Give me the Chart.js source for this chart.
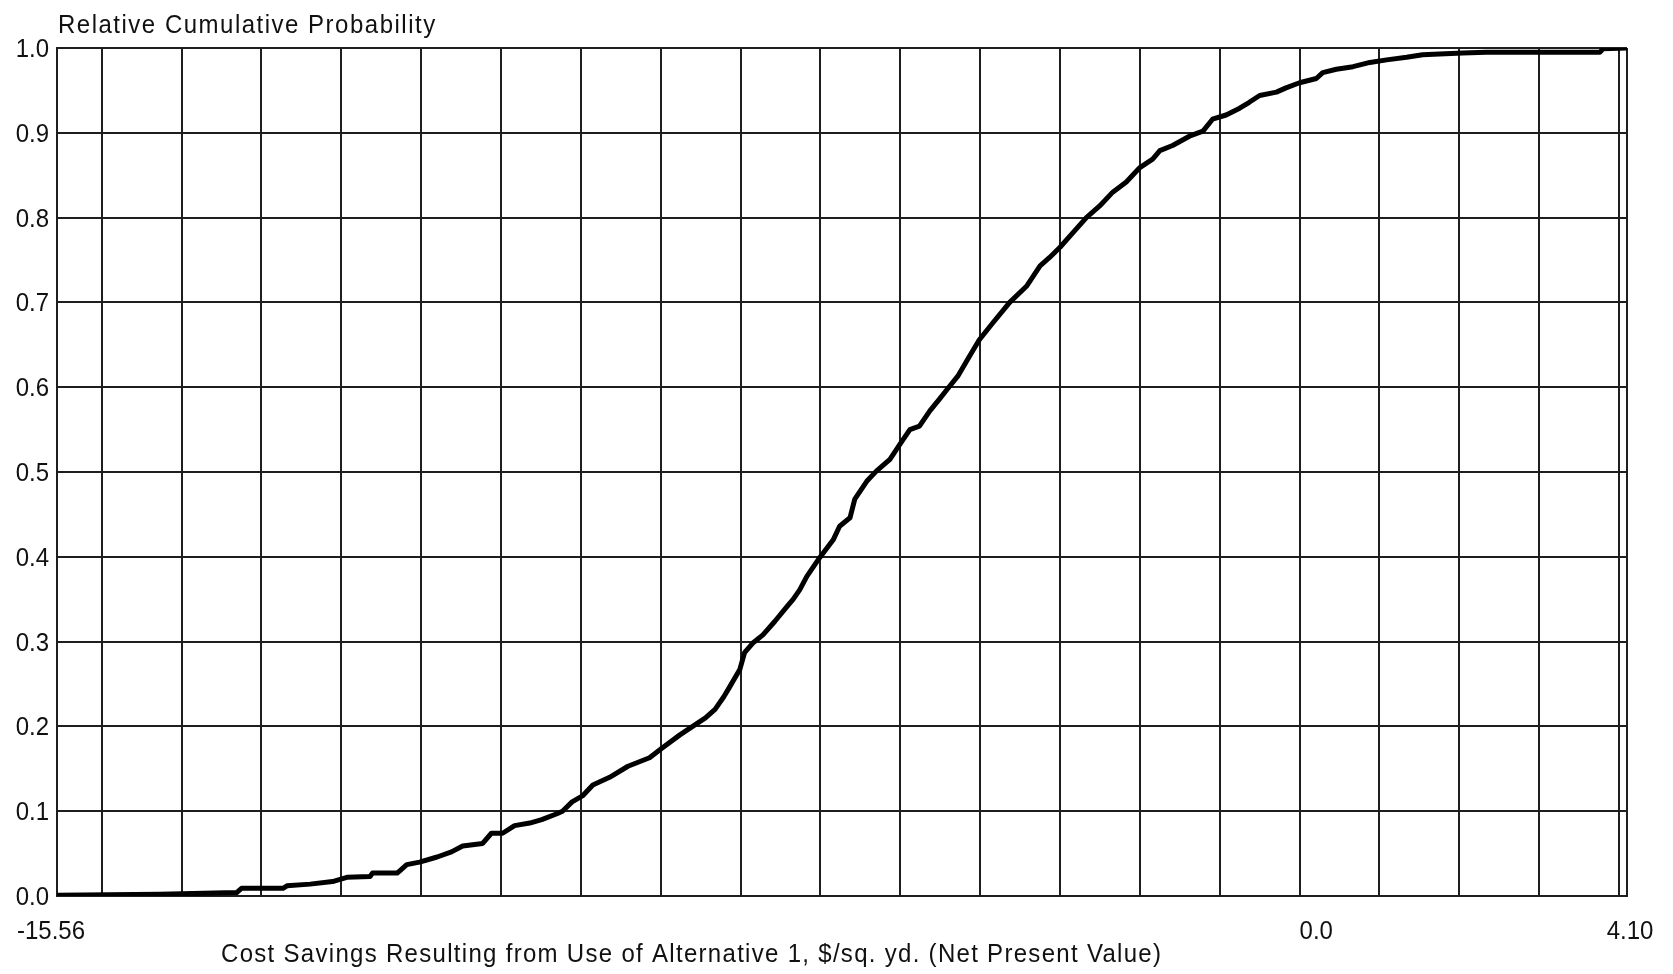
<!DOCTYPE html>
<html>
<head>
<meta charset="utf-8">
<script src="https://cdn.jsdelivr.net/npm/chart.js@4/dist/chart.umd.min.js"></script>
<style>
  html, body { margin: 0; padding: 0; background: #fff; overflow: hidden; }
  #wrap { width: 1673px; height: 974px; }
</style>
</head>
<body>
<div id="wrap"><canvas id="c" width="1673" height="974"></canvas></div>
<script>
// Cost savings (NPV, $/sq. yd.) and cumulative probability of the simulated outcomes
const savings = [
  -15.56, -14.27, -13.31, -13.25, -12.73, -12.68, -12.39, -12.11, -11.93, -11.64,
  -11.61, -11.30, -11.18, -11.02, -10.80, -10.62, -10.48, -10.23, -10.12, -9.98,
  -9.83, -9.64, -9.49, -9.30, -9.23, -9.11, -8.98, -8.85, -8.64, -8.41,
  -8.14, -7.99, -7.76, -7.60, -7.44, -7.32, -7.21, -7.14, -7.01, -6.95,
  -6.85, -6.72, -6.57, -6.43, -6.34, -6.26, -6.17, -6.01, -5.84, -5.76,
  -5.63, -5.57, -5.42, -5.30, -5.13, -5.01, -4.88, -4.76, -4.63, -4.51,
  -4.40, -4.28, -4.13, -4.01, -3.84, -3.63, -3.42, -3.25, -3.13, -3.00,
  -2.84, -2.67, -2.50, -2.34, -2.17, -2.00, -1.84, -1.75, -1.59, -1.38,
  -1.21, -1.09, -0.92, -0.75, -0.63, -0.50, -0.29, -0.17, 0.00, 0.21,
  0.29, 0.46, 0.67, 0.88, 1.09, 1.34, 1.54, 2.04, 2.34, 3.76,
  3.80, 4.10
];
const cumProb = [
  0.001, 0.002, 0.004, 0.009, 0.009, 0.012, 0.014, 0.017, 0.022, 0.023,
  0.027, 0.027, 0.037, 0.040, 0.046, 0.052, 0.059, 0.062, 0.074, 0.074,
  0.083, 0.086, 0.090, 0.097, 0.100, 0.111, 0.118, 0.131, 0.140, 0.153,
  0.163, 0.174, 0.190, 0.200, 0.210, 0.220, 0.235, 0.246, 0.267, 0.287,
  0.298, 0.308, 0.324, 0.340, 0.350, 0.361, 0.377, 0.399, 0.420, 0.436,
  0.446, 0.468, 0.489, 0.501, 0.515, 0.532, 0.550, 0.554, 0.572, 0.586,
  0.599, 0.613, 0.637, 0.656, 0.676, 0.700, 0.719, 0.743, 0.753, 0.765,
  0.782, 0.800, 0.814, 0.830, 0.842, 0.859, 0.869, 0.879, 0.885, 0.896,
  0.902, 0.916, 0.921, 0.929, 0.936, 0.944, 0.948, 0.953, 0.959, 0.964,
  0.971, 0.975, 0.978, 0.983, 0.986, 0.989, 0.992, 0.994, 0.995, 0.995,
  0.999, 1.000
];

// Axis range, grid positions and labelled ticks
const xMin = -15.56;
const xMax = 4.10;
const xGridValues = [-15, -14, -13, -12, -11, -10, -9, -8, -7, -6, -5, -4, -3, -2, -1, 0, 1, 2, 3, 4];
const xTickValues = [-15.56, 0, 4.10];
const xTickLabels = ['-15.56', '0.0', '4.10'];
const yTickValues = [0, 0.1, 0.2, 0.3, 0.4, 0.5, 0.6, 0.7, 0.8, 0.9, 1.0];
const yTickLabels = ['0.0', '0.1', '0.2', '0.3', '0.4', '0.5', '0.6', '0.7', '0.8', '0.9', '1.0'];
const yTitle = 'Relative Cumulative Probability';
const xTitle = 'Cost Savings Resulting from Use of Alternative 1, $/sq. yd. (Net Present Value)';

const points = savings.map((v, i) => ({ x: v, y: cumProb[i] }));

const FONT = '"Liberation Sans", Arial, sans-serif';
const INK = '#111';
const GRID = '#1e1e1e';

function drawText(ctx, text, x, y, align, spacing, size) {
  ctx.save();
  ctx.font = size + 'px ' + FONT;
  ctx.fillStyle = INK;
  ctx.textBaseline = 'alphabetic';
  ctx.textAlign = 'left';
  if ('letterSpacing' in ctx) ctx.letterSpacing = spacing + 'px';
  const w = ctx.measureText(text).width - (('letterSpacing' in ctx) ? spacing : 0);
  let left = x;
  if (align === 'right') left = x - w;
  else if (align === 'center') left = x - w / 2;
  ctx.translate(left, y);
  ctx.scale(1, 1.1);
  ctx.fillText(text, 0, 0);
  ctx.restore();
}

const labelsPlugin = {
  id: 'cdfLabels',
  afterDraw(chart) {
    const ctx = chart.ctx;
    const xs = chart.scales.x;
    const ys = chart.scales.y;
    const area = chart.chartArea;

    // probability ticks, right-aligned left of the frame
    yTickValues.forEach((v, i) => {
      const py = ys.getPixelForValue(v);
      drawText(ctx, yTickLabels[i], area.left - 8, py + 9, 'right', 0, 24);
    });

    // savings ticks under the frame
    const base = area.bottom + 43;
    xTickValues.forEach((v, i) => {
      const px = xs.getPixelForValue(v);
      if (i === 0) drawText(ctx, xTickLabels[i], px - 6, base, 'center', 0, 24);
      else if (v === 0) drawText(ctx, xTickLabels[i], px, base, 'left', 0, 24);
      else drawText(ctx, xTickLabels[i], px + 3, base, 'center', 0, 24);
    });

    // axis captions
    drawText(ctx, yTitle, area.left + 1, area.top - 15, 'left', 1.5, 24);
    drawText(ctx, xTitle, area.left + 164, area.bottom + 66, 'left', 1.3, 24);
  }
};

new Chart(document.getElementById('c'), {
  type: 'line',
  data: {
    datasets: [{
      data: points,
      borderColor: '#000',
      borderWidth: 5,
      borderJoinStyle: 'round',
      borderCapStyle: 'round',
      pointRadius: 0,
      tension: 0,
      fill: false
    }]
  },
  options: {
    responsive: false,
    animation: false,
    devicePixelRatio: 1,
    layout: { padding: { left: 57, right: 46, top: 48, bottom: 78 } },
    plugins: { legend: { display: false }, tooltip: { enabled: false }, title: { display: false } },
    scales: {
      x: {
        type: 'linear',
        min: xMin,
        max: xMax,
        afterBuildTicks(scale) {
          scale.ticks = [xMin, ...xGridValues, xMax].map(v => ({ value: v }));
        },
        afterFit(scale) { scale.height = 0; },
        ticks: { display: false },
        grid: { color: GRID, lineWidth: 2, drawTicks: false },
        border: { display: true, color: GRID, width: 2 }
      },
      y: {
        type: 'linear',
        min: 0,
        max: 1,
        afterBuildTicks(scale) {
          scale.ticks = yTickValues.map(v => ({ value: v }));
        },
        afterFit(scale) { scale.width = 0; },
        ticks: { display: false },
        grid: { color: GRID, lineWidth: 2, drawTicks: false },
        border: { display: true, color: GRID, width: 2 }
      }
    }
  },
  plugins: [labelsPlugin]
});
</script>
</body>
</html>
